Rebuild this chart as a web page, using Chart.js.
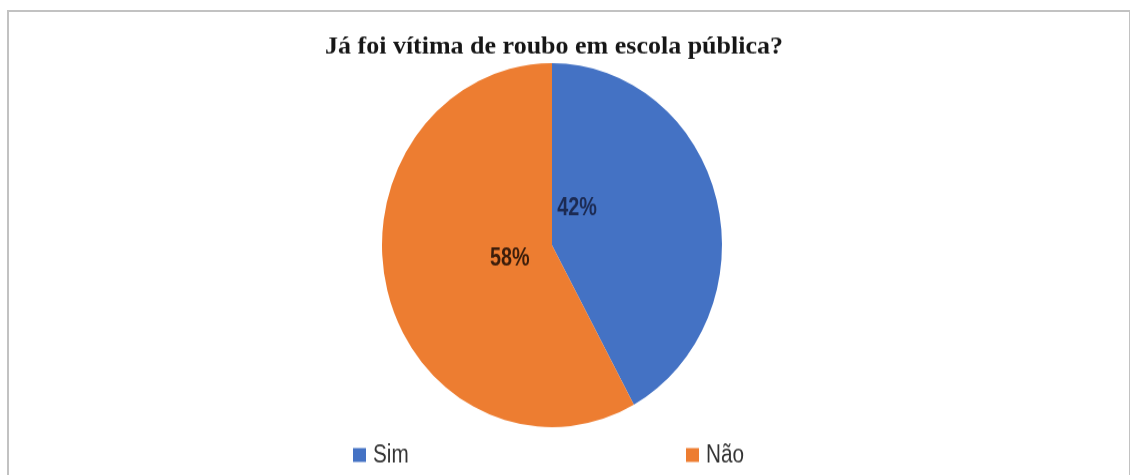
<!DOCTYPE html>
<html>
<head>
<meta charset="utf-8">
<script src="https://cdn.jsdelivr.net/npm/chart.js@4.4.1/dist/chart.umd.min.js"></script>
<style>
  html, body { margin: 0; padding: 0; background: #ffffff; overflow: hidden; }
  #wrap { position: relative; width: 1130px; height: 475px; }
  /* the chart is drawn slightly compressed and stretched back vertically */
  #chart { position: absolute; left: 0; top: 0; transform-origin: 0 0; transform: scaleY(1.0706); }
  #frame { position: absolute; left: 7px; top: 10px; width: 1120px; height: 480px;
           border: 2px solid #c2c2c2; border-bottom: none; pointer-events: none; }
</style>
</head>
<body>
<div id="wrap">
  <canvas id="chart" width="1130" height="444"></canvas>
  <div id="frame"></div>
</div>
<script>
// Survey answers and their shares (percent)
const categories = ['Sim', 'Não'];
const shares = [42, 58];
const sliceColors = ['#4472C4', '#ED7D31'];
const labelColors = ['#1c2a52', '#3b1d0b'];
const chartTitle = 'Já foi vítima de roubo em escola pública?';

// Title drawn with a wide bold serif face
const titlePlugin = {
  id: 'wideTitle',
  afterDraw(chart, args, opts) {
    const ctx = chart.ctx;
    const meta = chart.getDatasetMeta(0);
    const cx = meta.data[0].x;
    ctx.save();
    ctx.font = opts.font;
    ctx.fillStyle = opts.color;
    ctx.textAlign = 'center';
    ctx.textBaseline = 'alphabetic';
    ctx.translate(cx + 2, opts.baseline);
    ctx.scale(opts.scaleX, 1);
    ctx.fillText(opts.text, 0, 0);
    ctx.restore();
  }
};

// Percentage labels placed inside each slice, in a condensed face
const sliceLabelPlugin = {
  id: 'sliceLabels',
  afterDatasetsDraw(chart, args, opts) {
    const ctx = chart.ctx;
    const meta = chart.getDatasetMeta(0);
    const values = chart.data.datasets[0].data;
    ctx.save();
    ctx.font = opts.font;
    ctx.textAlign = 'center';
    ctx.textBaseline = 'middle';
    meta.data.forEach((arc, i) => {
      const pos = opts.positions[i];
      const a = pos.angle * Math.PI / 180;
      const r = arc.outerRadius * pos.dist;
      const x = arc.x + Math.sin(a) * r;
      const y = arc.y - Math.cos(a) * r;
      ctx.save();
      ctx.translate(x, y);
      ctx.scale(opts.scaleX, 1);
      ctx.fillStyle = opts.colors[i];
      ctx.fillText(values[i] + '%', 0, 0);
      ctx.restore();
    });
    ctx.restore();
  }
};

// Legend spread along the bottom edge
const bottomLegendPlugin = {
  id: 'bottomLegend',
  afterDraw(chart, args, opts) {
    const ctx = chart.ctx;
    const ds = chart.data.datasets[0];
    ctx.save();
    ctx.font = opts.font;
    ctx.textAlign = 'left';
    ctx.textBaseline = 'middle';
    chart.data.labels.forEach((label, i) => {
      const x = opts.itemX[i];
      ctx.fillStyle = ds.backgroundColor[i];
      ctx.fillRect(x, opts.y - opts.box / 2, opts.box, opts.box);
      ctx.save();
      ctx.translate(x + opts.box + opts.gap, opts.y + 1);
      ctx.scale(opts.scaleX, 1);
      ctx.fillStyle = opts.color;
      ctx.fillText(label, 0, 0);
      ctx.restore();
    });
    ctx.restore();
  }
};

new Chart(document.getElementById('chart'), {
  type: 'pie',
  data: {
    labels: categories,
    datasets: [{
      data: shares,
      backgroundColor: sliceColors,
      borderWidth: 0,
      hoverOffset: 0
    }]
  },
  options: {
    responsive: false,
    animation: false,
    devicePixelRatio: 1,
    layout: { padding: { top: 59, bottom: 45, left: 0, right: 26 } },
    plugins: {
      legend: { display: false },
      title: { display: false },
      tooltip: { enabled: false },
      wideTitle: {
        text: chartTitle,
        font: 'bold 23px "Liberation Serif", "Times New Roman", serif',
        color: '#161616',
        baseline: 50,
        scaleX: 1.13
      },
      sliceLabels: {
        font: 'bold 23px "Liberation Sans", Arial, sans-serif',
        scaleX: 0.86,
        colors: labelColors,
        positions: [
          { angle: 36, dist: 0.25 },
          { angle: 253, dist: 0.26 }
        ]
      },
      bottomLegend: {
        font: '23px "Liberation Sans", Arial, sans-serif',
        scaleX: 0.9,
        color: '#333333',
        itemX: [353, 686],
        y: 425,
        box: 13,
        gap: 7
      }
    }
  },
  plugins: [titlePlugin, sliceLabelPlugin, bottomLegendPlugin]
});
</script>
</body>
</html>
